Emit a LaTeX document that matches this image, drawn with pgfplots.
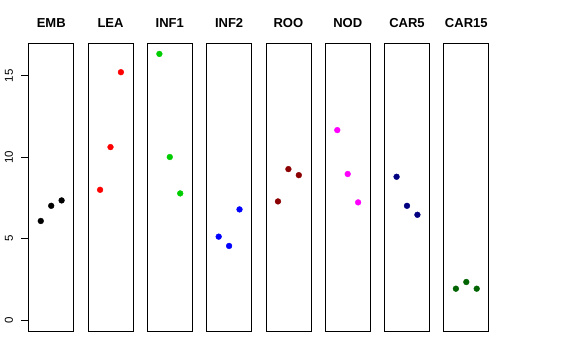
\documentclass[border=0pt]{standalone}
\usepackage{pgfplots}
\pgfplotsset{compat=1.18}
\usepackage{fontspec}
\setmainfont{Liberation Sans}
\definecolor{rgreen}{RGB}{0,205,0}
\definecolor{rdarkred}{RGB}{139,0,0}
\definecolor{rnavy}{RGB}{0,0,128}
\definecolor{rdarkgreen}{RGB}{0,100,0}
\definecolor{rmagenta}{RGB}{255,0,255}
\pgfplotsset{
  panel/.style={
    anchor=south west, width=45pt, height=287.7pt, scale only axis,
    xmin=-0.16, xmax=4.16, ymin=-0.653, ymax=16.98,
    xtick=\empty, ytick=\empty,
    axis line style={line width=0.8pt, black},
    title style={at={(0.5,1)}, anchor=base, yshift=10pt, inner sep=0pt,
      font=\bfseries\fontsize{13}{13}\selectfont},
    clip=false,
  },
  pts/.style={only marks, mark=*, mark size=2.9pt, mark options={draw=#1, fill=#1}},
}
\begin{document}
\begin{tikzpicture}
\path[use as bounding box] (0pt,0pt) rectangle (576pt,360pt);
\begin{axis}[panel, at={(28.7pt,29pt)}, title={EMB},
  ytick={0,5,10,15}, ymajorticks=true, ytick pos=left, tick align=outside, major tick length=7.5pt,
  y tick style={draw=black, line width=0.8pt},
  /pgf/number format/assume math mode=true,
  yticklabel style={rotate=90, anchor=south, inner sep=0pt, font=\fontsize{11.5}{11.5}\selectfont},
  yticklabel shift=8pt]
\addplot[pts=black] coordinates {(1,6.09) (2,7.02) (3,7.35)};
\end{axis}
\begin{axis}[panel, at={(88pt,29pt)}, title={LEA}]
\addplot[pts=red] coordinates {(1,8.00) (2,10.62) (3,15.21)};
\end{axis}
\begin{axis}[panel, at={(147.3pt,29pt)}, title={INF1}]
\addplot[pts=rgreen] coordinates {(1,16.33) (2,10.01) (3,7.78)};
\end{axis}
\begin{axis}[panel, at={(206.6pt,29pt)}, title={INF2}]
\addplot[pts=blue] coordinates {(1,5.13) (2,4.56) (3,6.80)};
\end{axis}
\begin{axis}[panel, at={(265.9pt,29pt)}, title={ROO}]
\addplot[pts=rdarkred] coordinates {(1,7.29) (2,9.27) (3,8.90)};
\end{axis}
\begin{axis}[panel, at={(325.2pt,29pt)}, title={NOD}]
\addplot[pts=rmagenta] coordinates {(1,11.66) (2,8.97) (3,7.23)};
\end{axis}
\begin{axis}[panel, at={(384.5pt,29pt)}, title={CAR5}]
\addplot[pts=rnavy] coordinates {(1,8.80) (2,7.02) (3,6.47)};
\end{axis}
\begin{axis}[panel, at={(443.8pt,29pt)}, title={CAR15}]
\addplot[pts=rdarkgreen] coordinates {(1,1.94) (2,2.35) (3,1.94)};
\end{axis}
\end{tikzpicture}
\end{document}
